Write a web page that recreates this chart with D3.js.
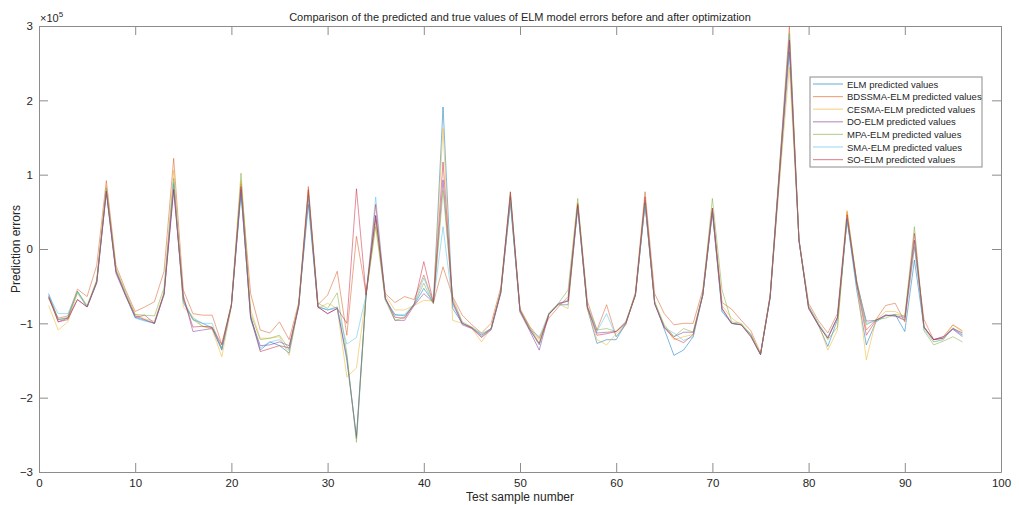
<!DOCTYPE html>
<html>
<head>
<meta charset="utf-8">
<script src="https://cdn.jsdelivr.net/npm/d3@7"></script>
<style>
  body { margin: 0; background: #fff; }
  text { font-family: "Liberation Sans", Arial, sans-serif; fill: #262626; }
</style>
</head>
<body>
<div id="chart"></div>
<script>
// sample numbers 1..96
var samples = d3.range(1, 97);

// prediction errors (x 1e5), one array per model
var elm = [-0.60,-0.95,-0.93,-0.57,-0.78,-0.45,0.78,-0.30,-0.62,-0.92,-0.96,-1.00,-0.60,0.88,-0.72,-0.95,-1.00,-1.06,-1.34,-0.76,
  0.75,-0.90,-1.36,-1.25,-1.30,-1.40,-0.75,0.60,-0.78,-0.82,-0.78,-1.50,-2.52,-0.60,0.45,-0.68,-0.88,-0.90,-0.75,-0.53,
  -0.72,1.91,-0.80,-1.00,-1.06,-1.16,-1.07,-0.58,0.62,-0.82,-1.08,-1.29,-0.88,-0.75,-0.75,0.56,-0.80,-1.27,-1.22,-1.22,
  -1.00,-0.62,0.62,-0.72,-1.08,-1.43,-1.36,-1.18,-0.62,0.50,-0.84,-1.00,-1.02,-1.16,-1.42,-0.65,1.00,2.65,0.12,-0.78,
  -1.02,-1.31,-0.95,0.40,-0.55,-1.29,-0.98,-0.90,-0.88,-1.11,-0.15,-1.06,-1.22,-1.20,-1.07,-1.16];
var bdssma = [-0.66,-0.93,-0.90,-0.54,-0.64,-0.22,0.92,-0.22,-0.55,-0.84,-0.78,-0.71,-0.30,1.22,-0.55,-0.87,-0.89,-0.89,-1.28,-0.74,
  0.88,-0.60,-1.09,-1.13,-0.98,-1.22,-0.72,0.84,-0.75,-0.62,-0.30,-1.16,0.17,-0.60,0.40,-0.60,-0.72,-0.64,-0.68,-0.35,
  -0.72,-0.24,-0.64,-0.89,-1.02,-1.13,-1.00,-0.52,0.72,-0.80,-1.04,-1.20,-0.93,-0.78,-0.64,0.62,-0.70,-1.09,-0.75,-1.18,
  -1.02,-0.58,0.77,-0.60,-0.87,-1.02,-1.00,-1.00,-0.55,0.55,-0.72,-0.81,-0.96,-1.10,-1.40,-0.62,1.15,2.99,0.12,-0.73,
  -0.96,-1.13,-0.87,0.50,-0.44,-1.09,-0.95,-0.76,-0.73,-0.98,0.03,-0.95,-1.22,-1.18,-1.02,-1.10];
var cesma = [-0.76,-1.09,-0.98,-0.60,-0.78,-0.42,0.85,-0.28,-0.60,-0.88,-0.94,-0.97,-0.58,1.06,-0.78,-0.91,-1.04,-1.08,-1.45,-0.78,
  0.92,-0.82,-1.20,-1.20,-1.18,-1.43,-0.76,0.78,-0.80,-0.73,-0.80,-1.72,-1.60,-0.62,0.35,-0.62,-0.82,-0.82,-0.76,-0.69,
  -0.70,1.62,-0.96,-1.00,-1.07,-1.25,-1.06,-0.58,0.66,-0.84,-1.06,-1.22,-0.87,-0.74,-0.80,0.60,-0.80,-1.22,-1.29,-1.14,
  -1.00,-0.60,0.62,-0.70,-1.04,-1.22,-1.18,-1.15,-0.62,0.52,-0.76,-0.93,-1.02,-1.14,-1.42,-0.64,0.95,2.45,0.13,-0.76,
  -1.00,-1.36,-1.09,0.52,-0.45,-1.49,-0.96,-0.84,-0.84,-0.91,0.10,-1.04,-1.25,-1.22,-1.02,-1.12];
var doElm = [-0.64,-0.98,-0.95,-0.68,-0.78,-0.46,0.76,-0.33,-0.63,-0.92,-0.89,-1.00,-0.62,0.80,-0.62,-1.11,-1.09,-1.07,-1.36,-0.76,
  0.80,-0.93,-1.30,-1.29,-1.25,-1.30,-0.78,0.72,-0.78,-0.87,-0.80,-1.45,-2.55,-0.62,0.45,-0.66,-0.96,-0.96,-0.76,-0.60,
  -0.72,0.93,-0.72,-1.02,-1.07,-1.19,-1.09,-0.60,0.70,-0.85,-1.10,-1.36,-0.88,-0.73,-0.70,0.58,-0.78,-1.13,-1.12,-1.11,
  -0.98,-0.62,0.62,-0.74,-1.05,-1.18,-1.12,-1.12,-0.62,0.50,-0.80,-1.00,-1.02,-1.18,-1.42,-0.66,1.08,2.78,0.11,-0.80,
  -1.02,-1.20,-0.92,0.40,-0.45,-0.97,-0.96,-0.89,-0.90,-0.92,0.12,-1.05,-1.22,-1.18,-1.08,-1.18];
var mpa = [-0.66,-0.95,-0.92,-0.57,-0.76,-0.42,0.82,-0.27,-0.58,-0.88,-0.89,-0.90,-0.52,0.95,-0.68,-0.95,-1.04,-1.06,-1.33,-0.74,
  1.02,-0.87,-1.22,-1.20,-1.16,-1.35,-0.74,0.76,-0.73,-0.80,-0.59,-1.40,-2.60,-0.62,0.30,-0.69,-0.96,-0.92,-0.74,-0.46,
  -0.74,0.79,-0.66,-0.98,-1.05,-1.14,-1.07,-0.57,0.76,-0.82,-1.05,-1.27,-0.86,-0.73,-0.55,0.68,-0.76,-1.09,-1.07,-1.11,
  -0.98,-0.60,0.66,-0.72,-1.02,-1.18,-1.07,-1.12,-0.60,0.68,-0.55,-0.98,-1.00,-1.15,-1.42,-0.64,1.12,2.90,0.12,-0.78,
  -1.00,-1.22,-1.05,0.42,-0.42,-1.02,-0.95,-0.93,-0.88,-0.90,0.30,-1.10,-1.29,-1.24,-1.18,-1.25];
var sma = [-0.62,-0.87,-0.87,-0.58,-0.78,-0.44,0.80,-0.30,-0.62,-0.93,-0.97,-1.00,-0.60,0.90,-0.70,-0.93,-1.00,-1.00,-1.36,-0.75,
  0.80,-0.95,-1.33,-1.25,-1.22,-1.37,-0.76,0.70,-0.77,-0.82,-0.80,-1.28,-1.19,-0.62,0.70,-0.66,-0.90,-0.88,-0.74,-0.39,
  -0.72,0.30,-0.75,-1.00,-1.06,-1.15,-1.08,-0.58,0.66,-0.84,-1.08,-1.18,-0.87,-0.74,-0.68,0.55,-0.78,-1.11,-0.87,-1.18,
  -1.00,-0.62,0.60,-0.72,-1.06,-1.13,-1.23,-1.18,-0.62,0.52,-0.84,-1.00,-1.02,-1.16,-1.42,-0.64,1.10,2.85,0.12,-0.77,
  -1.00,-1.18,-0.92,0.40,-0.48,-1.00,-0.97,-0.89,-0.90,-0.95,0.05,-1.08,-1.25,-1.22,-1.06,-1.15];
var so = [-0.64,-0.98,-0.93,-0.68,-0.78,-0.44,0.78,-0.30,-0.62,-0.90,-0.95,-1.00,-0.60,0.80,-0.66,-1.05,-1.04,-1.05,-1.29,-0.76,
  0.84,-0.92,-1.38,-1.34,-1.30,-1.33,-0.76,0.80,-0.78,-0.87,-0.80,-1.00,0.81,-0.62,0.60,-0.66,-0.92,-0.93,-0.74,-0.17,
  -0.72,1.17,-0.70,-1.00,-1.06,-1.18,-1.07,-0.58,0.77,-0.83,-1.08,-1.27,-0.88,-0.74,-0.70,0.60,-0.78,-1.16,-1.14,-1.11,
  -1.00,-0.62,0.70,-0.74,-1.06,-1.20,-1.26,-1.15,-0.62,0.55,-0.80,-1.00,-1.02,-1.18,-1.42,-0.65,1.08,2.81,0.12,-0.80,
  -1.02,-1.20,-0.92,0.46,-0.47,-1.16,-0.96,-0.89,-0.90,-0.96,0.21,-1.05,-1.22,-1.20,-1.07,-1.13];

var seriesNames = ["ELM predicted values", "BDSSMA-ELM predicted values", "CESMA-ELM predicted values",
  "DO-ELM predicted values", "MPA-ELM predicted values", "SMA-ELM predicted values", "SO-ELM predicted values"];
var seriesValues = [elm, bdssma, cesma, doElm, mpa, sma, so];
// matlab default line colours, drawn semi-transparent
var colors = ["#0072BD", "#D95319", "#EDB120", "#7E2F8E", "#77AC30", "#4DBEEE", "#C8203C"];

var xTicks = [0, 10, 20, 30, 40, 50, 60, 70, 80, 90, 100];
var yTicks = [-3, -2, -1, 0, 1, 2, 3];

var svgWidth = 1019, svgHeight = 505;
var margin = {top: 26, right: 18, bottom: 33, left: 39};
var width = svgWidth - margin.left - margin.right;
var height = svgHeight - margin.top - margin.bottom;

var svg = d3.select("#chart").append("svg")
  .attr("width", svgWidth)
  .attr("height", svgHeight);

var g = svg.append("g")
  .attr("transform", `translate(${margin.left}, ${margin.top})`);

var x = d3.scaleLinear().domain([0, 100]).range([0, width]);
var y = d3.scaleLinear().domain([-3, 3]).range([height, 0]);

// axes, ticks pointing inward like matlab
function styleAxis(sel) {
  sel.selectAll("path").attr("stroke", "#8c8c8c").attr("stroke-width", 1);
  sel.selectAll("line").attr("stroke", "#8c8c8c").attr("stroke-width", 1);
  sel.selectAll("text").attr("font-size", "11.5px").attr("fill", "#262626")
    .attr("font-family", "Liberation Sans, Arial, sans-serif");
}

g.append("g").attr("transform", `translate(0, ${height})`)
  .call(d3.axisBottom(x).tickValues(xTicks).tickSize(-9).tickSizeOuter(0).tickPadding(7))
  .call(styleAxis);
g.append("g")
  .call(d3.axisTop(x).tickValues(xTicks).tickSize(-9).tickSizeOuter(0).tickFormat(""))
  .call(styleAxis);
g.append("g")
  .call(d3.axisLeft(y).tickValues(yTicks).tickSize(-9).tickSizeOuter(0).tickPadding(6).tickFormat(d3.format("d")))
  .call(styleAxis);
g.append("g").attr("transform", `translate(${width}, 0)`)
  .call(d3.axisRight(y).tickValues(yTicks).tickSize(-9).tickSizeOuter(0).tickFormat(""))
  .call(styleAxis);

// lines
var line = d3.line()
  .x((d, i) => x(samples[i]))
  .y(d => y(d));

g.append("g").selectAll("path")
  .data(seriesValues)
  .join("path")
  .attr("d", line)
  .attr("fill", "none")
  .attr("stroke", (d, i) => colors[i])
  .attr("stroke-opacity", 0.5)
  .attr("stroke-width", 1);

// exponent label
var expo = g.append("text")
  .attr("x", 1)
  .attr("y", -4)
  .attr("font-size", "11px");
expo.append("tspan").text("\u00d710");
expo.append("tspan").attr("dy", -5).attr("font-size", "8px").text("5");

// title and axis labels
svg.append("text")
  .attr("x", margin.left + width / 2)
  .attr("y", 21)
  .attr("text-anchor", "middle")
  .attr("font-size", "11px")
  .text("Comparison of the predicted and true values of ELM model errors before and after optimization");

svg.append("text")
  .attr("x", margin.left + width / 2)
  .attr("y", 501)
  .attr("text-anchor", "middle")
  .attr("font-size", "12px")
  .text("Test sample number");

svg.append("text")
  .attr("transform", `translate(20, ${margin.top + height / 2}) rotate(-90)`)
  .attr("text-anchor", "middle")
  .attr("font-size", "12px")
  .text("Prediction errors");

// legend
var legend = svg.append("g").attr("transform", "translate(810, 77)");
legend.append("rect")
  .attr("width", 172)
  .attr("height", 90)
  .attr("fill", "#fff")
  .attr("stroke", "#8c8c8c")
  .attr("stroke-width", 1);

var items = legend.selectAll("g.item")
  .data(seriesNames)
  .join("g")
  .attr("class", "item")
  .attr("transform", (d, i) => `translate(0, ${7 + i * 12.6})`);

items.append("line")
  .attr("x1", 3).attr("x2", 33)
  .attr("stroke", (d, i) => colors[i])
  .attr("stroke-opacity", 0.5)
  .attr("stroke-width", 1.2);

items.append("text")
  .attr("x", 37)
  .attr("y", 3.5)
  .attr("font-size", "9.5px")
  .text(d => d);
</script>
</body>
</html>
